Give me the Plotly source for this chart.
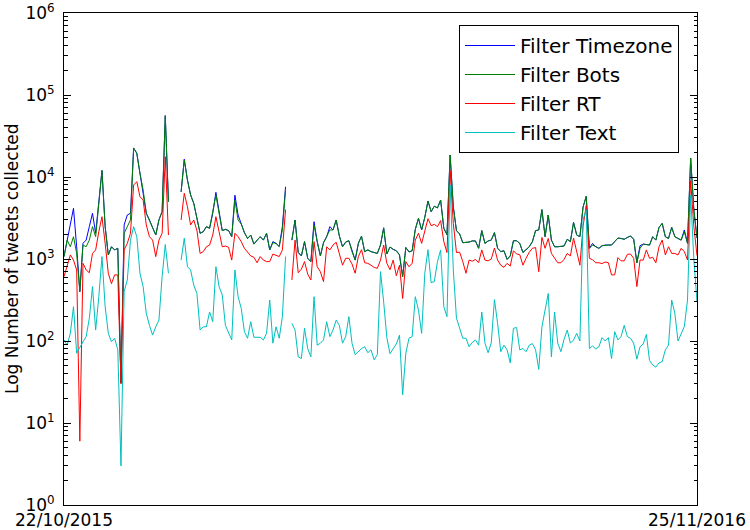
import pandas as pd
import plotly.graph_objects as go

# one reading every 2 days, 22/10/2015 -> 25/11/2016 (None = no data)
dates = pd.date_range("2015-10-22", "2016-11-25", freq="2D")

timezone = [
    1070, 1700, 2600, 4150, 1410, 400, 1550, 1700, 2480, 3610,
    2060, 5240, 12000, 2480, 1120, 1410, 1290, 1350, 31, 2600,
    3440, 3610, 22600, 19450, 11100, 6940, 3610, 2990, 2370, 1960,
    3000, 3780, 56000, 5000, None, None, None, 6600, 16500, 9190,
    6030, 4780, 3280, 2060, 2150, 2480, 2370, 3610, 6500, 3610,
    2220, 2300, 2220, 1870, 6000, 3440, 2660, 2100, 1780, 1960,
    1520, 1700, 1870, 1700, 2060, 1290, 1630, 1550, 1420, 2480,
    7600, None, 1700, 2990, 1200, 1090, 1630, 1020, 930, 2850,
    1630, 1090, 1580, 1870, 2480, 2260, 2990, 1910, 1410, 1610,
    1670, 1230, 970, 1550, 1900, 1230, 1290, 1230, 1200, 1170,
    1480, 2400, 1150, 1400, 1310, 1260, 1120, 610, 1380, 1220,
    1260, 2300, 3130, 2260, 3230, 5100, 3780, 4400, 4200, 5240,
    2370, 1980, 18500, 4340, 2220, 2020, 1580, 1580, 1610, 1660,
    1660, 1350, 2220, 1550, 1660, 1700, 2100, 1350, 1230, 1260,
    990, 1090, 1670, 1670, 1550, 1200, 1310, 1410, 1630, 2220,
    2260, 4000, 1870, 3440, 1700, 1410, 1410, 1410, 1440, 1740,
    1630, 2800, 1960, 1870, 4300, 5800, 1350, 1550, 1410, 1350,
    1450, 1480, 1480, 1480, 1630, 1800, 1780, 1740, 1830, 1910,
    1740, 900, 1450, 1520, 1500, 1480, 1870, 1700, 2430, 2720,
    1870, 1780, 2430, 1870, 1780, 1700, 2260, 1550, 17000, 4000,
    1800,
]

bots = [
    1070, 1700, 1410, 1870, 1170, 400, 1480, 1410, 1700, 2480,
    1870, 4780, 12000, 2480, 1120, 1410, 1290, 1350, 31, 2060,
    2480, 2990, 22600, 19450, 11100, 6940, 3610, 2990, 2370, 1960,
    3000, 3780, 56000, 5000, None, None, None, 6600, 16100, 9190,
    6030, 4780, 3280, 2060, 2150, 2480, 2370, 3610, 6030, 3610,
    2220, 2300, 2220, 1870, 5240, 2990, 2660, 2100, 1780, 1960,
    1520, 1700, 1870, 1700, 2060, 1290, 1580, 1550, 1420, 2260,
    7000, None, 1700, 2990, 1200, 1090, 1630, 1020, 930, 2600,
    1630, 1090, 1580, 1870, 2260, 2260, 2990, 1910, 1410, 1610,
    1670, 1230, 970, 1550, 1900, 1230, 1290, 1230, 1200, 1170,
    1480, 2400, 1150, 1400, 1310, 1260, 1120, 610, 1380, 1220,
    1260, 2300, 3130, 2260, 3230, 5100, 3780, 4400, 4200, 5240,
    2370, 1980, 18500, 4340, 2220, 2020, 1580, 1580, 1610, 1660,
    1660, 1350, 2220, 1550, 1660, 1700, 2100, 1350, 1230, 1260,
    990, 1090, 1670, 1670, 1550, 1200, 1310, 1410, 1630, 2220,
    2260, 4000, 1870, 3440, 1700, 1410, 1410, 1410, 1440, 1740,
    1630, 2800, 1960, 1870, 4300, 5800, 1350, 1480, 1410, 1350,
    1450, 1480, 1480, 1480, 1630, 1800, 1780, 1740, 1830, 1910,
    1740, 900, 1350, 1520, 1500, 1480, 1870, 1700, 2430, 2720,
    1870, 1780, 2430, 1870, 1780, 1700, 2150, 1550, 17000, 4000,
    1800,
]

rt = [
    610, 840, 1120, 970, 735, 6, 885, 735, 680, 1170,
    1290, 2150, 3280, 1550, 670, 500, 640, 640, 30, 1290,
    1550, 2060, 7990, 8770, 5750, 5240, 2600, 1870, 1700, 1070,
    1700, 2060, 17700, 1960, None, None, None, 2990, 6330, 4340,
    2600, 2990, 2220, 1170, 1230, 1410, 1480, 1960, 3280, 2150,
    1410, 1440, 1390, 970, 2060, 1870, 1630, 1350, 1230, 1090,
    1050, 900, 1070, 970, 930, 930, 1150, 1120, 1070, 1290,
    4000, None, 555, 1700, 680, 750, 930, 655, 555, 1630,
    805, 700, 530, 1410, 1290, 1480, 1600, 1150, 840, 1020,
    1020, 870, 670, 1070, 1300, 900, 885, 840, 790, 770,
    970, 1480, 890, 740, 970, 625, 840, 330, 930, 805,
    885, 1700, 2060, 1550, 2220, 3100, 2550, 2640, 2480, 2940,
    1630, 1200, 12000, 2720, 1200, 1210, 930, 670, 970, 940,
    990, 900, 1290, 970, 950, 1000, 1360, 970, 840, 790,
    885, 820, 1260, 1150, 1130, 840, 1020, 1210, 1350, 1380,
    700, 1830, 1350, 1780, 1170, 1020, 900, 900, 990, 1170,
    1090, 1800, 1230, 840, 2500, 4500, 1020, 980, 900, 900,
    880, 920, 900, 640, 640, 1040, 950, 950, 1140, 1150,
    1020, 460, 970, 970, 1290, 1020, 1050, 900, 1410, 1700,
    1120, 1410, 1170, 1170, 1120, 1350, 1230, 970, 9000, 2500,
    1100,
]

text = [
    103, 89, 124, 262, 71, 85, 98, 113, 189, 460,
    136, 347, 1070, 262, 124, 98, 108, 78, 3, 400,
    555, 1700, 2480, 1870, 670, 460, 217, 155, 118, 149,
    180, 610, 1500, 670, None, None, None, 970, 1790, 805,
    735, 480, 380, 136, 149, 149, 226, 172, 805, 460,
    365, 155, 124, 103, 735, 347, 250, 130, 108, 172,
    111, 111, 111, 103, 124, 316, 94, 149, 108, 198,
    1070, None, 164, 136, 64, 61, 143, 81, 64, 347,
    89, 94, 103, 172, 113, 136, 180, 155, 94, 113,
    198, 94, 68, 74, 81, 85, 72, 78, 59, 68,
    700, 300, 110, 70, 79, 92, 118, 22, 71, 108,
    113, 347, 238, 124, 670, 1300, 515, 530, 930, 1290,
    262, 198, 8000, 735, 190, 138, 108, 108, 85, 96,
    103, 89, 226, 94, 72, 95, 320, 164, 74, 89,
    78, 54, 143, 146, 78, 81, 74, 89, 93, 78,
    45, 149, 238, 380, 64, 226, 94, 74, 105, 136,
    94, 103, 124, 100, 3000, 4000, 81, 87, 80, 85,
    110, 100, 110, 61, 130, 103, 113, 155, 113, 108,
    94, 60, 85, 92, 120, 58, 51, 48, 54, 56,
    78, 89, 316, 217, 100, 124, 150, 316, 6000, 1000,
    300,
]

series = [
    ("Filter Timezone", timezone, "#0000ff"),
    ("Filter Bots", bots, "#008000"),
    ("Filter RT", rt, "#ff0000"),
    ("Filter Text", text, "#00bfbf"),
]

FONT = "DejaVu Sans"

fig = go.Figure()
for name, vals, col in series:
    fig.add_trace(go.Scatter(
        x=dates, y=vals, name=name, mode="lines",
        line=dict(color=col, width=1),
    ))

major = [10 ** e for e in range(7)]
minor = [m * 10 ** e for e in range(6) for m in range(2, 10)]

fig.update_layout(
    width=750, height=530, autosize=False,
    margin=dict(l=64, r=53, t=13, b=25),
    paper_bgcolor="white", plot_bgcolor="white",
    font=dict(family=FONT, size=17, color="black"),
    showlegend=True,
    legend=dict(
        x=(459 - 64) / 633, y=(505 - 25) / 492,
        xanchor="left", yanchor="top",
        bgcolor="white", bordercolor="black", borderwidth=1,
        font=dict(family=FONT, size=20),
        itemwidth=50,
    ),
    xaxis=dict(
        type="date", automargin=False,
        range=[dates[0], dates[-1]],
        tickvals=[dates[0], dates[-1]],
        ticktext=["22/10/2015", "25/11/2016"],
        ticks="inside", ticklen=7, tickcolor="black",
        showline=True, linecolor="black", linewidth=1, mirror="ticks",
        showgrid=False, zeroline=False,
        tickfont=dict(size=17), ticklabeloverflow="allow",
    ),
    yaxis=dict(
        type="log", range=[0, 6], automargin=False,
        tickvals=major,
        ticktext=[f"10<sup>{e}</sup>" for e in range(7)],
        ticks="inside", ticklen=7, tickcolor="black",
        minor=dict(ticks="inside", ticklen=3.5, tickcolor="black",
                   tickvals=minor, showgrid=False),
        showline=True, linecolor="black", linewidth=1, mirror="ticks",
        showgrid=False, zeroline=False,
        tickfont=dict(size=17), ticklabeloverflow="allow",
        ticklabelstandoff=5,
    ),
    annotations=[dict(
        text="Log Number of tweets collected",
        xref="paper", yref="paper", x=0, y=0.5,
        xshift=-52, textangle=-90, showarrow=False,
        xanchor="center", yanchor="middle",
        font=dict(family=FONT, size=17),
    )],
)

# drop the browser's default 8px body margin so the figure sits at 0,0
fig.write_html(
    "out.html",
    config={"displayModeBar": False},
    post_script="document.body.style.margin = '0px';",
)
